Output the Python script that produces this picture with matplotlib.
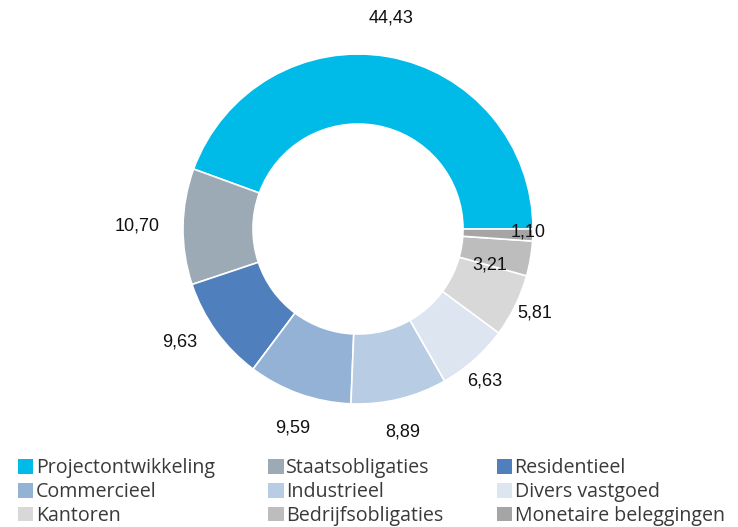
import numpy as np
import matplotlib.pyplot as plt
from matplotlib.patches import Patch

categories = ["Projectontwikkeling", "Staatsobligaties", "Residentieel",
              "Commercieel", "Industrieel", "Divers vastgoed",
              "Kantoren", "Bedrijfsobligaties", "Monetaire beleggingen"]
values = [44.43, 10.70, 9.63, 9.59, 8.89, 6.63, 5.81, 3.21, 1.10]
labels = ["44,43", "10,70", "9,63", "9,59", "8,89", "6,63", "5,81", "3,21", "1,10"]
colors = ["#00BAE8", "#9BAAB4", "#4F80BD", "#94B2D6", "#B8CCE4",
          "#DCE5F0", "#D8D8D8", "#BDBDBD", "#A5A5A5"]
# label placement: distance (in pie radii) and angular nudge (degrees)
label_dist = [1.22, 1.26, 1.205, 1.195, 1.19, 1.13, 1.12, 0.78, 0.97]
label_nudge = [1, 0, -3.4, 1.5, -1.3, -1.7, 0.6, -5.6, 1]

W, H = 738, 527
cx, cy, R = 358, 229, 175

fig = plt.figure(figsize=(W / 100, H / 100), dpi=100)
ax = fig.add_axes([0, 0, 1, 1])

wedges, _ = ax.pie(values, colors=colors, startangle=0, counterclock=True,
                   radius=1, wedgeprops=dict(width=0.4, edgecolor="white", linewidth=1.2))
ax.set_xlim(-cx / R, (W - cx) / R)
ax.set_ylim(-(H - cy) / R, cy / R)
ax.set_aspect("equal")
ax.axis("off")

for w, lab, d, n in zip(wedges, labels, label_dist, label_nudge):
    ang = np.deg2rad((w.theta1 + w.theta2) / 2 + n)
    ax.text(d * np.cos(ang), d * np.sin(ang), lab, ha="center", va="center",
            fontsize=13, family="Liberation Sans", color="#111111")

# legend is filled column by column, so reorder to read row-wise
order = [0, 3, 6, 1, 4, 7, 2, 5, 8]
handles = [Patch(facecolor=colors[i], edgecolor="none") for i in order]
names = [categories[i] for i in order]
leg = fig.legend(handles, names, ncol=3, loc="upper left", bbox_to_anchor=(0.024, 0.131),
                 frameon=False, handlelength=0.8, handleheight=0.8,
                 handletextpad=0.12, columnspacing=2.72, labelspacing=0.2,
                 borderaxespad=0, borderpad=0,
                 prop=dict(family="Open Sans", size=14.1))
for t in leg.get_texts():
    t.set_color("#3a3a3a")

fig.savefig("out.png", dpi=100)
